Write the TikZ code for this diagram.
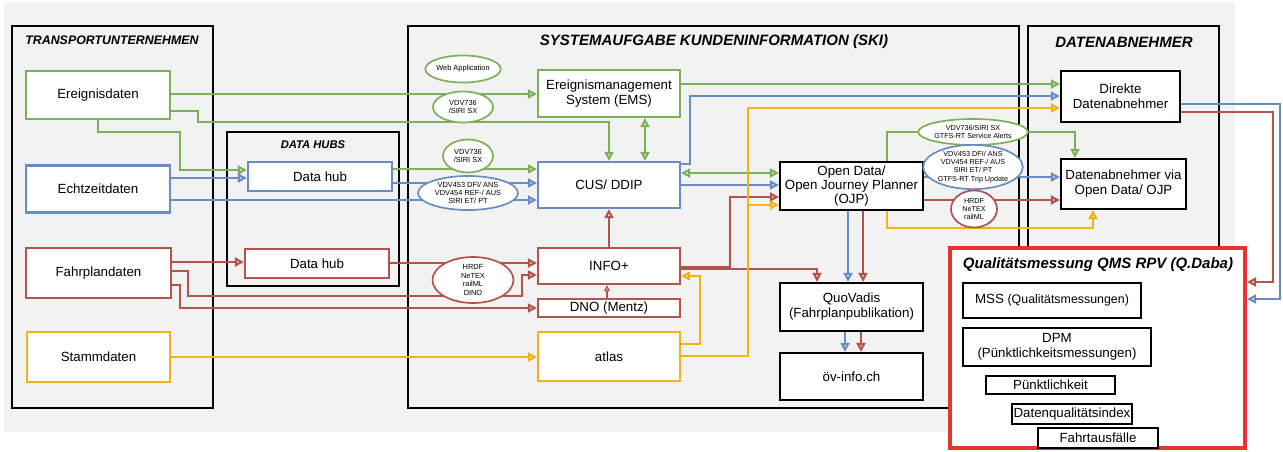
\documentclass[tikz,border=0pt]{standalone}
\usepackage{fontspec}
\setmainfont{Liberation Sans}
\usetikzlibrary{arrows.meta,shapes.geometric}
\definecolor{cG}{RGB}{125,176,88}
\definecolor{cB}{RGB}{106,140,196}
\definecolor{cR}{RGB}{180,82,78}
\definecolor{cY}{RGB}{240,180,22}
\definecolor{cQ}{RGB}{235,50,50}
\definecolor{bgc}{RGB}{242,242,242}
\pgfdeclarelayer{bg}
\pgfdeclarelayer{mid}
\pgfsetlayers{bg,mid,main}
\begin{document}
\begin{tikzpicture}[x=1pt,y=-1pt,
  box/.style={draw=#1, fill=white, line width=2.2pt, align=center, inner sep=1pt,
    font=\fontsize{13.3}{15}\selectfont},
  qitem/.style={draw=black, fill=white, line width=1.8pt, align=center, inner sep=1pt,
    font=\fontsize{13.3}{15}\selectfont},
  frame/.style={draw=black, line width=2.2pt},
  ttl/.style={font=\bfseries\itshape\fontsize{12.4}{14}\selectfont},
  ell/.style={ellipse, draw=#1, fill=white, line width=1.7pt, inner sep=0pt, align=center,
    font=\fontsize{7.4}{8.4}\selectfont},
  conn/.style={draw=#1, line width=2.1pt, -{Triangle[open, length=9pt, width=9pt]}},
  dconn/.style={draw=#1, line width=2.1pt, {Triangle[open, length=9pt, width=9pt]}-{Triangle[open, length=9pt, width=9pt]}}
]
\useasboundingbox (0,0) rectangle (1283,452);
\begin{pgfonlayer}{bg}
\fill[bgc] (4,2) rectangle (1235,432);
\draw[frame] (12,26) rectangle (213,408);
\draw[frame] (227,132) rectangle (399,286);
\draw[frame] (408,26) rectangle (1019,408);
\draw[frame] (1028,26) rectangle (1219,408);
\end{pgfonlayer}
\node[ttl] (ttu) at (112,40) {TRANSPORTUNTERNEHMEN};
\node[ttl, font=\bfseries\itshape\fontsize{11.2}{13}\selectfont] (tdh) at (313,145) {DATA HUBS};
\node[ttl, font=\bfseries\itshape\fontsize{15}{17}\selectfont] (tski) at (714,42) {SYSTEMAUFGABE KUNDENINFORMATION (SKI)};
\node[ttl, font=\bfseries\itshape\fontsize{15}{17}\selectfont] (tda) at (1124,42) {DATENABNEHMER};

% boxes
\node[box=cG, minimum width=144, minimum height=48] (ereig) at (98,95) {Ereignisdaten};
\node[box=cB, minimum width=144, minimum height=47] (echt) at (98,189) {Echtzeitdaten};
\node[box=cR, minimum width=145, minimum height=50] (fahr) at (98.5,273) {Fahrplandaten};
\node[box=cY, minimum width=143, minimum height=50] (stamm) at (98.5,357) {Stammdaten};
\node[box=cB, minimum width=144, minimum height=29] (hubB) at (320,176.5) {Data hub};
\node[box=cR, minimum width=144, minimum height=29] (hubR) at (317,263.5) {Data hub};
\node[box=cG, minimum width=142, minimum height=47] (ems) at (609,93.5) {Ereignismanagement\\System (EMS)};
\node[box=cB, minimum width=142, minimum height=46] (cus) at (609,185) {CUS/ DDIP};
\node[box=cR, minimum width=142, minimum height=36] (info) at (609,266) {INFO+};
\node[box=cR, minimum width=142, minimum height=18] (dno) at (609,308) {DNO (Mentz)};
\node[box=cY, minimum width=142, minimum height=49] (atlas) at (609,356.5) {atlas};
\node[box=black, minimum width=143, minimum height=48, font=\fontsize{13.3}{14.2}\selectfont] (ojp) at (851.5,186) {Open Data/\\Open Journey Planner\\(OJP)};
\node[box=black, minimum width=143, minimum height=48] (quo) at (851.5,307) {QuoVadis\\(Fahrplanpublikation)};
\node[box=black, minimum width=143, minimum height=47] (ovi) at (851.5,376.5) {öv-info.ch};
\node[box=black, minimum width=119, minimum height=51] (dir) at (1120.5,96.5) {Direkte\\Datenabnehmer};
\node[box=black, minimum width=125, minimum height=50] (via) at (1123.5,184) {Datenabnehmer via\\Open Data/ OJP};

% Q box
\node[draw=cQ, fill=white, line width=4pt, minimum width=295, minimum height=200, inner sep=0pt] (qbox) at (1097.5,348) {};
\node[ttl, font=\bfseries\itshape\fontsize{15}{17}\selectfont] (tq) at (1098,265) {Qualitätsmessung QMS RPV (Q.Daba)};
\node[qitem, minimum width=178, minimum height=35] (mss) at (1052,300.5) {MSS {\fontsize{12.4}{14}\selectfont(Qualitätsmessungen)}};
\node[qitem, minimum width=188, minimum height=38] (dpm) at (1057,347) {DPM\\(Pünktlichkeitsmessungen)};
\node[qitem, minimum width=129, minimum height=18] (punkt) at (1050.5,385) {Pünktlichkeit};
\node[qitem, minimum width=120, minimum height=20] (dqi) at (1072,414) {Datenqualitätsindex};
\node[qitem, minimum width=120, minimum height=20] (fahrt) at (1098,438) {Fahrtausfälle};

% ---------- connectors ----------
\begin{pgfonlayer}{mid}
% green
\draw[conn=cG] (ereig.east |- 0,94) -- (ems.west |- 0,94);
\draw[conn=cG] (ereig.east |- 0,111) -- (198,111) -- (198,122) -- (cus.north |- 0,122) -- (cus.north);
\draw[conn=cG] (ereig.south) -- (98,132) -- (180,132) -- (180,170) -- (hubB.west |- 0,170);
\draw[conn=cG] (hubB.east |- 0,169) -- (cus.west |- 0,169);
\draw[dconn=cG] (645,0 |- ems.south) -- (645,0 |- cus.north);
\draw[dconn=cG] (cus.east |- 0,173) -- (ojp.west |- 0,173);
\draw[conn=cG] (ems.east |- 0,84) -- (dir.west |- 0,84);
\draw[conn=cG] (887,0 |- ojp.north) -- (887,132) -- (1075,132) -- (1075,0 |- via.north);
% blue
\draw[conn=cB] (echt.east |- 0,178) -- (hubB.west |- 0,178);
\draw[conn=cB] (echt.east |- 0,200) -- (cus.west |- 0,200);
\draw[conn=cB] (hubB.east |- 0,183) -- (cus.west |- 0,183);
\draw[conn=cB] (cus.east |- 0,185) -- (ojp.west |- 0,185);
\draw[conn=cB] (cus.east |- 0,164) -- (690,164) -- (690,96) -- (dir.west |- 0,96);
\draw[conn=cB] (848,0 |- ojp.south) -- (848,0 |- quo.north);
\draw[conn=cB] (845,0 |- quo.south) -- (845,0 |- ovi.north);
\draw[conn=cB] (ojp.east |- 0,177) -- (via.west |- 0,177);
\draw[conn=cB] (dir.east |- 0,104) -- (1280,104) -- (1280,299) -- (qbox.east |- 0,299);
% red
\draw[conn=cR] (fahr.east |- 0,262) -- (hubR.west |- 0,262);
\draw[conn=cR] (fahr.east |- 0,271) -- (188,271) -- (188,296) -- (522,296) -- (522,275) -- (info.west |- 0,275);
\draw[conn=cR] (fahr.east |- 0,285) -- (180,285) -- (180,308) -- (dno.west |- 0,308);
\draw[conn=cR] (hubR.east |- 0,263) -- (info.west |- 0,263);
\draw[draw=cR, line width=1.3pt, -{Triangle[open, length=6pt, width=6pt]}] (607,0 |- dno.north) -- (607,0 |- info.south);
\draw[conn=cR] (info.north) -- (cus.south);
\draw[conn=cR] (info.east |- 0,267) -- (730,267) -- (730,197) -- (ojp.west |- 0,197);
\draw[conn=cR] (info.east |- 0,269) -- (817,269) -- (817,0 |- quo.north);
\draw[conn=cR] (863,0 |- ojp.south) -- (863,0 |- quo.north);
\draw[conn=cR] (861,0 |- quo.south) -- (861,0 |- ovi.north);
\draw[conn=cR] (ojp.east |- 0,200) -- (via.west |- 0,200);
\draw[conn=cR] (dir.east |- 0,112) -- (1273,112) -- (1273,282) -- (qbox.east |- 0,282);
% yellow
\draw[conn=cY] (stamm.east |- 0,357) -- (atlas.west |- 0,357);
\draw[conn=cY] (atlas.east |- 0,344) -- (700,344) -- (700,276) -- (info.east |- 0,276);
\draw[conn=cY] (atlas.east |- 0,356) -- (748,356) -- (748,108) -- (dir.west |- 0,108);
\coordinate (ybr) at (748,205);
\draw[conn=cY] (ybr) -- (ojp.west |- ybr);
\draw[conn=cY] (887,0 |- ojp.south) -- (887,228) -- (1093,228) -- (1093,0 |- via.south);
\end{pgfonlayer}

% ellipses
\node[ell=cG, minimum width=62, minimum height=27] (webapp) at (463,69) {Web Application};
\node[ell=cG, minimum width=60, minimum height=31] (sx1) at (463,107) {VDV736\\/SIRI SX};
\node[ell=cG, minimum width=50, minimum height=33] (sx2) at (468,156) {VDV736\\/SIRI SX};
\node[ell=cB, minimum width=100, minimum height=34, font=\fontsize{7.4}{8}\selectfont] (vdvB) at (468,193) {VDV453 DFI/ ANS\\VDV454 REF-/ AUS\\SIRI ET/ PT};
\node[ell=cR, minimum width=81, minimum height=46, font=\fontsize{7.4}{8.6}\selectfont] (hrdf) at (473,280) {HRDF\\NeTEX\\railML\\DINO};
\node[ell=cG, minimum width=102, minimum height=26, font=\fontsize{7.2}{8.4}\selectfont] (sxR) at (973,132) {VDV736/SIRI SX\\GTFS-RT Service Alerts};
\node[ell=cB, minimum width=92, minimum height=41, font=\fontsize{7.2}{8.2}\selectfont] (vdvR) at (973,167) {VDV453 DFI/ ANS\\VDV454 REF-/ AUS\\SIRI ET/ PT\\GTFS-RT Trip Update};
\node[ell=cR, minimum width=46, minimum height=37, font=\fontsize{7.2}{8.4}\selectfont] (hrdfR) at (974,209) {HRDF\\NeTEX\\railML};
\end{tikzpicture}
\end{document}
